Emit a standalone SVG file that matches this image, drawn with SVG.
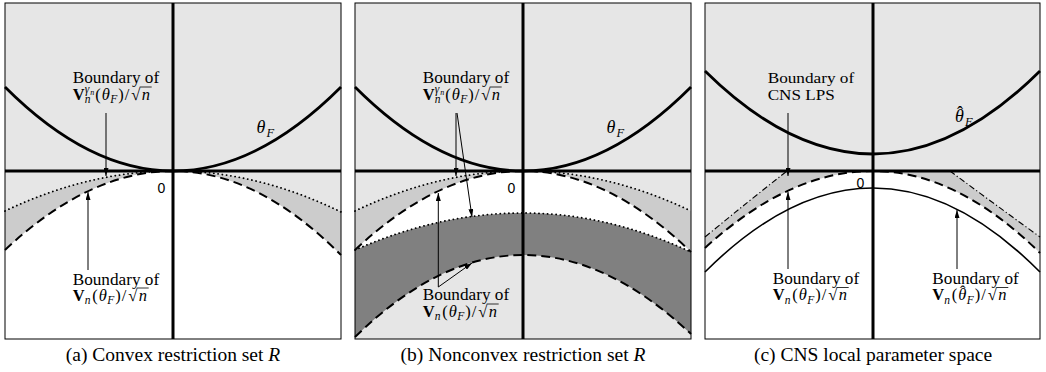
<svg xmlns="http://www.w3.org/2000/svg" xmlns:xlink="http://www.w3.org/1999/xlink" width="1046" height="372" viewBox="0 0 1046 372">
<style>
.t{font-family:"Liberation Serif","DejaVu Serif",serif;font-size:16.5px;fill:#000}
.it{font-style:italic}
.bf{font-weight:bold}
.sm{font-size:11.5px}
.xs{font-size:8px}
.zero{font-family:"Liberation Sans",Arial,sans-serif;font-size:14px;fill:#000}
.cap{font-family:"Liberation Serif","DejaVu Serif",serif;font-size:19.5px;fill:#000}
.bg{fill:#e6e6e6}
.mid{fill:#cccccc}
.dark{fill:#808080}
.wh{fill:#ffffff}
.frame{fill:none;stroke:#000;stroke-width:1}
.axis{fill:none;stroke:#000;stroke-width:3}
.theta{fill:none;stroke:#000;stroke-width:2.8}
.dash{fill:none;stroke:#000;stroke-width:2;stroke-dasharray:9 5}
.dot{fill:none;stroke:#000;stroke-width:1.8;stroke-dasharray:0.1 4.2;stroke-linecap:round}
.dd{fill:none;stroke:#000;stroke-width:1.1;stroke-dasharray:6 2.5 1.2 2.5}
.thin{fill:none;stroke:#000;stroke-width:1.6}
.arr{fill:none;stroke:#000;stroke-width:1;marker-end:url(#ah)}
.vin{stroke:#000;stroke-width:0.8}
</style>
<defs>
<marker id="ah" viewBox="0 0 8 5" refX="8" refY="2.5" markerWidth="8" markerHeight="5" markerUnits="userSpaceOnUse" orient="auto">
<path d="M0,0 L8,2.5 L0,5 z" fill="#000"/>
</marker>
<g id="mVg">
<text class="t"><tspan class="bf" x="0" y="0">V</tspan><tspan class="it sm" x="12" y="3.5">n</tspan><tspan class="it sm" x="12" y="-6.5">γ</tspan><tspan class="it xs" x="17.5" y="-4.5">n</tspan><tspan x="22.5" y="0">(</tspan><tspan class="it" x="29" y="0">θ</tspan><tspan class="it sm" x="37.5" y="3.5">F</tspan><tspan x="45.5" y="0">)</tspan><tspan x="52" y="0">/</tspan><tspan x="58.5" y="0">√</tspan><tspan class="it" x="69" y="0">n</tspan></text>
<line class="vin" x1="67" y1="-12.5" x2="79" y2="-12.5"/>
</g>
<g id="mVn">
<text class="t"><tspan class="bf" x="0" y="0">V</tspan><tspan class="it sm" x="12" y="3.5">n</tspan><tspan x="19.5" y="0">(</tspan><tspan class="it" x="26" y="0">θ</tspan><tspan class="it sm" x="34.5" y="3.5">F</tspan><tspan x="42.5" y="0">)</tspan><tspan x="49" y="0">/</tspan><tspan x="55.5" y="0">√</tspan><tspan class="it" x="66" y="0">n</tspan></text>
<line class="vin" x1="64" y1="-12.5" x2="76" y2="-12.5"/>
</g>
<g id="mVnh">
<text class="t"><tspan class="bf" x="0" y="0">V</tspan><tspan class="it sm" x="12" y="3.5">n</tspan><tspan x="19.5" y="0">(</tspan><tspan class="it" x="26" y="0">θ</tspan><tspan x="27.8" y="-3.2">ˆ</tspan><tspan class="it sm" x="34.5" y="3.5">F</tspan><tspan x="42.5" y="0">)</tspan><tspan x="49" y="0">/</tspan><tspan x="55.5" y="0">√</tspan><tspan class="it" x="66" y="0">n</tspan></text>
<line class="vin" x1="64" y1="-12.5" x2="76" y2="-12.5"/>
</g>
</defs>

<!-- Panel (a) -->
<g id="panel-a">
<rect class="bg" x="5" y="3" width="336" height="336"/>
<path class="mid" d="M5,211 Q89,171 173,171 Q257,171 341,212 L341,255 Q257,171 173,171 Q89,171 5,250 Z"/>
<path class="wh" d="M5,250 Q89,171 173,171 Q257,171 341,255 L341,339 L5,339 Z"/>
<path class="dot" d="M5,211 Q89,171 173,171 Q257,171 341,212"/>
<path class="dash" d="M5,250 Q89,171 173,171 Q257,171 341,255"/>
<line class="axis" x1="5" y1="171" x2="341" y2="171"/>
<line class="axis" x1="173" y1="3" x2="173" y2="339"/>
<path class="theta" d="M5,87 Q89,171 173,171 Q257,171 341,87"/>
<rect class="frame" x="5" y="3" width="336" height="336"/>
<text class="t it" style="font-size:18px"><tspan x="256.5" y="133">θ</tspan><tspan class="sm" x="266.5" y="137" style="font-size:12.5px">F</tspan></text>
<text class="zero" x="157.5" y="193">0</text>
</g>
<g id="label-a-top">
<text class="t" x="72.7" y="83.3" textLength="86.5" lengthAdjust="spacingAndGlyphs">Boundary of</text>
<use xlink:href="#mVg" href="#mVg" transform="translate(72.7,99.5)"/>
</g>
<g id="label-a-bot">
<text class="t" x="72.7" y="284.5" textLength="86.5" lengthAdjust="spacingAndGlyphs">Boundary of</text>
<use xlink:href="#mVn" href="#mVn" transform="translate(72.7,300.5)"/>
</g>

<!-- Panel (b) -->
<g id="panel-b">
<rect class="bg" x="355" y="3" width="336" height="336"/>
<path class="mid" d="M355,211 Q439,171 523,171 Q607,171 691,211 L691,252 Q607,171 523,171 Q439,171 355,250 Z"/>
<path class="wh" d="M355,250 Q439,171 523,171 Q607,171 691,252 L691,339 L355,339 Z"/>
<path class="dark" d="M355,250 Q439,213 523,213 Q607,213 691,252 L691,339 L355,339 Z"/>
<path class="bg" d="M355,337 Q439,255 523,255 Q607,255 691,334 L691,339 L355,339 Z"/>
<path class="dot" d="M355,211 Q439,171 523,171 Q607,171 691,211"/>
<path class="dash" d="M355,250 Q439,171 523,171 Q607,171 691,252"/>
<path class="dot" d="M355,250 Q439,213 523,213 Q607,213 691,252"/>
<path class="dash" d="M355,337 Q439,255 523,255 Q607,255 691,334"/>
<line class="axis" x1="355" y1="171" x2="691" y2="171"/>
<line class="axis" x1="523" y1="3" x2="523" y2="339"/>
<path class="theta" d="M355,87 Q439,171 523,171 Q607,171 691,87"/>
<rect class="frame" x="355" y="3" width="336" height="336"/>
<text class="t it" style="font-size:18px"><tspan x="606.5" y="133">θ</tspan><tspan x="616.5" y="137" style="font-size:12.5px">F</tspan></text>
<text class="zero" x="507.5" y="193">0</text>
</g>
<g id="label-b-top">
<text class="t" x="422.7" y="83.3" textLength="86.5" lengthAdjust="spacingAndGlyphs">Boundary of</text>
<use xlink:href="#mVg" href="#mVg" transform="translate(422.7,99.5)"/>
</g>
<g id="label-b-bot">
<text class="t" x="422.7" y="300" textLength="86.5" lengthAdjust="spacingAndGlyphs">Boundary of</text>
<use xlink:href="#mVn" href="#mVn" transform="translate(422.7,316.5)"/>
</g>

<!-- Panel (c) -->
<g id="panel-c">
<rect class="bg" x="705" y="3" width="335" height="336"/>
<path class="mid" d="M705,237 Q750,200 787,171 L950,171 Q993,203 1040,237 L1040,339 L705,339 Z"/>
<path class="wh" d="M705,248 Q789,171 873,171 Q956.5,171 1040,253 L1040,339 L705,339 Z"/>
<path class="dd" d="M705,237 Q750,200 787,171"/>
<path class="dd" d="M950,171 Q993,203 1040,237"/>
<path class="dash" d="M705,248 Q789,171 873,171 Q956.5,171 1040,253"/>
<path class="thin" d="M705,272 Q789,188 873,188 Q956.5,188 1040,272"/>
<line class="axis" x1="705" y1="171" x2="1040" y2="171"/>
<line class="axis" x1="873" y1="3" x2="873" y2="339"/>
<path class="theta" d="M705,71 Q789,154 873,154 Q956.5,154 1040,71"/>
<rect class="frame" x="705" y="3" width="335" height="336"/>
<text class="t" style="font-size:18px"><tspan class="it" x="955" y="122">θ</tspan><tspan x="957" y="118.5">ˆ</tspan><tspan class="it" x="965" y="126" style="font-size:12.5px">F</tspan></text>
<text class="zero" x="856.5" y="187.5">0</text>
</g>
<g id="label-c-top">
<text class="t" style="font-size:15px"><tspan x="767.7" y="83" textLength="86.5" lengthAdjust="spacingAndGlyphs">Boundary of</tspan><tspan x="767.7" y="100" textLength="67" lengthAdjust="spacingAndGlyphs">CNS LPS</tspan></text>
</g>
<g id="label-c-botl">
<text class="t" x="772.7" y="284" textLength="86.5" lengthAdjust="spacingAndGlyphs">Boundary of</text>
<use xlink:href="#mVn" href="#mVn" transform="translate(772.7,300)"/>
</g>
<g id="label-c-botr">
<text class="t" x="932.3" y="284" textLength="86.5" lengthAdjust="spacingAndGlyphs">Boundary of</text>
<use xlink:href="#mVnh" href="#mVnh" transform="translate(932.3,300)"/>
</g>

<!-- Connectors -->
<g id="connectors">
<line class="arr" x1="106" y1="113" x2="106" y2="176"/>
<line class="arr" x1="88" y1="270" x2="88" y2="192"/>
<line class="arr" x1="456" y1="113" x2="456" y2="176"/>
<line class="arr" x1="457" y1="113" x2="472" y2="217"/>
<line class="arr" x1="438.3" y1="287" x2="438.3" y2="193"/>
<line class="arr" x1="438.3" y1="287" x2="472" y2="263"/>
<line class="arr" x1="788" y1="113" x2="788" y2="176"/>
<line class="arr" x1="788" y1="269" x2="788" y2="192"/>
<line class="arr" x1="957" y1="269" x2="957" y2="210"/>
</g>

<!-- Captions -->
<g id="captions">
<text class="cap" x="173" y="361" text-anchor="middle">(a) Convex restriction set <tspan font-style="italic">R</tspan></text>
<text class="cap" x="523" y="361" text-anchor="middle">(b) Nonconvex restriction set <tspan font-style="italic">R</tspan></text>
<text class="cap" x="873" y="361" text-anchor="middle">(c) CNS local parameter space</text>
</g>
</svg>
